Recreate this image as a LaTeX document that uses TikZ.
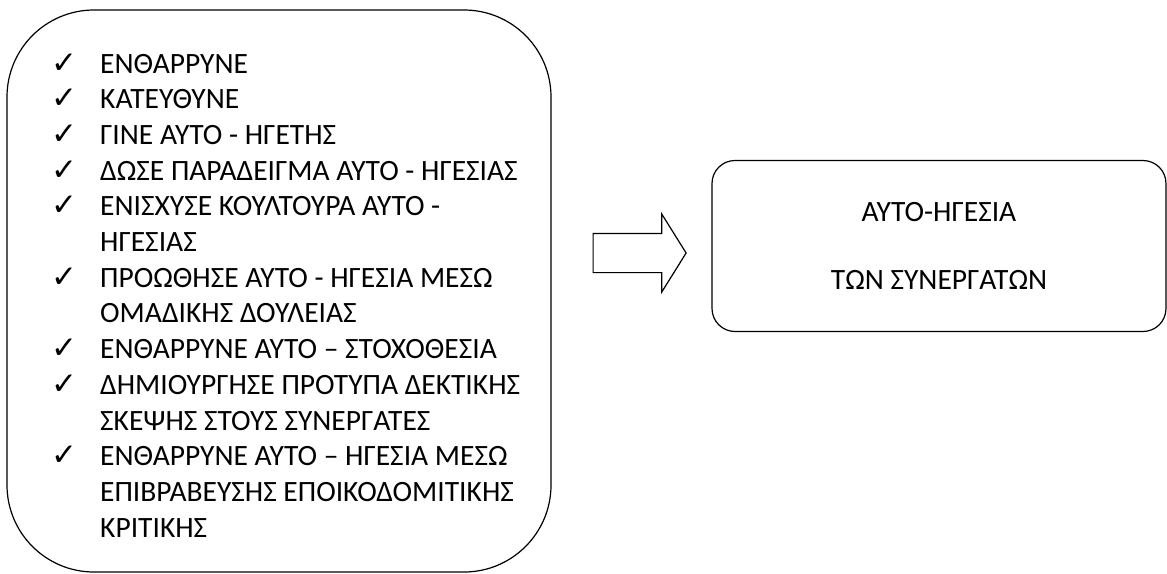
\documentclass[tikz,border=0pt]{standalone}
\usepackage{fontspec}
\setmainfont{Carlito}
\newfontfamily\checkfont{DejaVu Sans}
\usetikzlibrary{shapes.arrows}
\newcommand{\tick}{{\checkfont\fontsize{31}{31}\selectfont ✓}}

\begin{document}
\begin{tikzpicture}[x=1pt,y=-1pt,
    box/.style={draw=black,line width=1.2pt},
    words/.style={font=\fontsize{29.5}{35.7}\selectfont,inner sep=0pt}]
\useasboundingbox (0,0) rectangle (1167,573);
\node[box,rounded corners=87pt,minimum width=544pt,minimum height=562pt] (lbox) at (279,291) {};
\node[words,anchor=base west] (items) at (51,73) {%
  \begin{tabular}[t]{@{}p{49pt}@{}l@{}}
  \tick & ΕΝΘΑΡΡΥΝΕ\\
  \tick & ΚΑΤΕΥΘΥΝΕ\\
  \tick & ΓΙΝΕ ΑΥΤΟ - ΗΓΕΤΗΣ\\
  \tick & ΔΩΣΕ ΠΑΡΑΔΕΙΓΜΑ ΑΥΤΟ - ΗΓΕΣΙΑΣ\\
  \tick & ΕΝΙΣΧΥΣΕ ΚΟΥΛΤΟΥΡΑ ΑΥΤΟ -\\
        & ΗΓΕΣΙΑΣ\\
  \tick & ΠΡΟΩΘΗΣΕ ΑΥΤΟ - ΗΓΕΣΙΑ ΜΕΣΩ\\
        & ΟΜΑΔΙΚΗΣ ΔΟΥΛΕΙΑΣ\\
  \tick & ΕΝΘΑΡΡΥΝΕ ΑΥΤΟ – ΣΤΟΧΟΘΕΣΙΑ\\
  \tick & ΔΗΜΙΟΥΡΓΗΣΕ ΠΡΟΤΥΠΑ ΔΕΚΤΙΚΗΣ\\
        & ΣΚΕΨΗΣ ΣΤΟΥΣ ΣΥΝΕΡΓΑΤΕΣ\\
  \tick & ΕΝΘΑΡΡΥΝΕ ΑΥΤΟ – ΗΓΕΣΙΑ ΜΕΣΩ\\
        & ΕΠΙΒΡΑΒΕΥΣΗΣ ΕΠΟΙΚΟΔΟΜΙΤΙΚΗΣ\\
        & ΚΡΙΤΙΚΗΣ
  \end{tabular}};
\node[box,words,rounded corners=23pt,minimum width=454pt,minimum height=171pt,align=center] (goal) at (939,246) {ΑΥΤΟ-ΗΓΕΣΙΑ\\[33pt]ΤΩΝ ΣΥΝΕΡΓΑΤΩΝ};
\node[box,single arrow,inner xsep=0pt,inner ysep=19pt,minimum height=93pt,
      single arrow head extend=19.5pt,single arrow tip angle=116] (arrow) at (633.5,253) {};
\end{tikzpicture}
\end{document}
